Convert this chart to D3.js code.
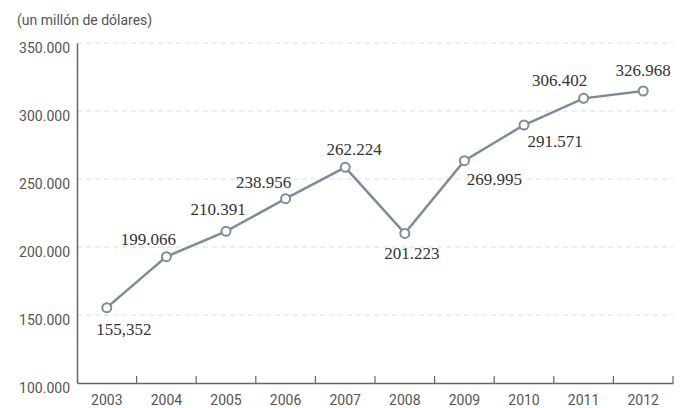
<!DOCTYPE html>
<html>
<head>
<meta charset="utf-8">
<script src="https://cdn.jsdelivr.net/npm/d3@7"></script>
<style>
  body { margin: 0; background: #fff; }
  .axis text { font-family: Roboto, "Noto Sans", sans-serif; font-size: 14px; fill: #555; }
</style>
</head>
<body>
<script>
var years = ["2003", "2004", "2005", "2006", "2007", "2008", "2009", "2010", "2011", "2012"];
// values as plotted (in thousands of millions shown on the axis)
var values = [155.4, 192.9, 211.5, 235.5, 258.6, 210.0, 263.5, 289.7, 309.3, 314.7];
// value labels as printed beside each point
var valueLabels = ["155,352", "199.066", "210.391", "238.956", "262.224",
                   "201.223", "269.995", "291.571", "306.402", "326.968"];
var yTicks = [100, 150, 200, 250, 300, 350];
var yTickLabels = ["100.000", "150.000", "200.000", "250.000", "300.000", "350.000"];

var w = 681,
    h = 408;

var plotL = 77, plotR = 673, plotT = 43, plotB = 383;

var svg = d3.select("body")
  .append("svg")
  .attr("width", w)
  .attr("height", h);

var xScale = d3.scaleBand()
  .domain(years)
  .range([plotL, plotR]);

var yScale = d3.scaleLinear()
  .domain([100, 350])
  .range([plotB, plotT]);

// unit title
svg.append("text")
  .attr("x", 17)
  .attr("y", 25)
  .attr("font-family", "Roboto, 'Noto Sans', sans-serif")
  .attr("font-size", "14px")
  .attr("fill", "#555")
  .text("(un millón de dólares)");

// dashed grid
svg.selectAll("line.grid")
  .data(yTicks.slice(1))
  .enter()
  .append("line")
  .attr("class", "grid")
  .attr("x1", plotL)
  .attr("x2", plotR)
  .attr("y1", function(d) { return yScale(d); })
  .attr("y2", function(d) { return yScale(d); })
  .attr("stroke", "#dcdcdc")
  .attr("stroke-dasharray", "5,4");

var yAxis = d3.axisLeft(yScale)
  .tickValues(yTicks)
  .tickSize(0)
  .tickPadding(7)
  .tickFormat(function(d, i) { return yTickLabels[i]; });

var gy = svg.append("g")
  .attr("class", "axis")
  .attr("transform", "translate(" + plotL + ",0)")
  .call(yAxis);
gy.select(".domain").attr("stroke", "#666").attr("stroke-width", 1.5);
gy.selectAll("text").attr("dy", "0.65em").attr("y", 0);

var xAxis = d3.axisBottom(xScale)
  .tickSize(0)
  .tickPadding(12);

var gx = svg.append("g")
  .attr("class", "axis")
  .attr("transform", "translate(0," + plotB + ")")
  .call(xAxis);
gx.select(".domain").attr("stroke", "#666").attr("stroke-width", 1.5);

// ticks at band edges, pointing up
svg.selectAll("line.xtick")
  .data(years)
  .enter()
  .append("line")
  .attr("class", "xtick")
  .attr("x1", function(d) { return xScale(d) + xScale.bandwidth(); })
  .attr("x2", function(d) { return xScale(d) + xScale.bandwidth(); })
  .attr("y1", plotB)
  .attr("y2", plotB - 7)
  .attr("stroke", "#666")
  .attr("stroke-width", 1.2);

var cx = function(d, i) { return xScale(years[i]) + xScale.bandwidth() / 2; };

var line = d3.line()
  .x(cx)
  .y(function(d) { return yScale(d); });

svg.append("path")
  .datum(values)
  .attr("fill", "none")
  .attr("stroke", "#7b8d9a")
  .attr("stroke-width", 2.5)
  .attr("d", line);

svg.selectAll("circle")
  .data(values)
  .enter()
  .append("circle")
  .attr("cx", cx)
  .attr("cy", function(d) { return yScale(d); })
  .attr("r", 4.5)
  .attr("fill", "#fff")
  .attr("stroke", "#7b8d9a")
  .attr("stroke-width", 2);

// label placement relative to each point
var offsets = [[17, 27], [-18, -12], [-8, -16], [-22, -11], [9, -12],
               [7, 26], [30, 24], [31, 22], [-24, -12], [0, -15]];

svg.selectAll("text.val")
  .data(values)
  .enter()
  .append("text")
  .attr("class", "val")
  .attr("x", function(d, i) { return cx(d, i) + offsets[i][0]; })
  .attr("y", function(d) { return yScale(d); })
  .attr("dy", function(d, i) { return offsets[i][1]; })
  .attr("text-anchor", "middle")
  .attr("font-family", "'Liberation Serif', 'DejaVu Serif', serif")
  .attr("font-size", "17px")
  .attr("fill", "#333")
  .text(function(d, i) { return valueLabels[i]; });
</script>
</body>
</html>
